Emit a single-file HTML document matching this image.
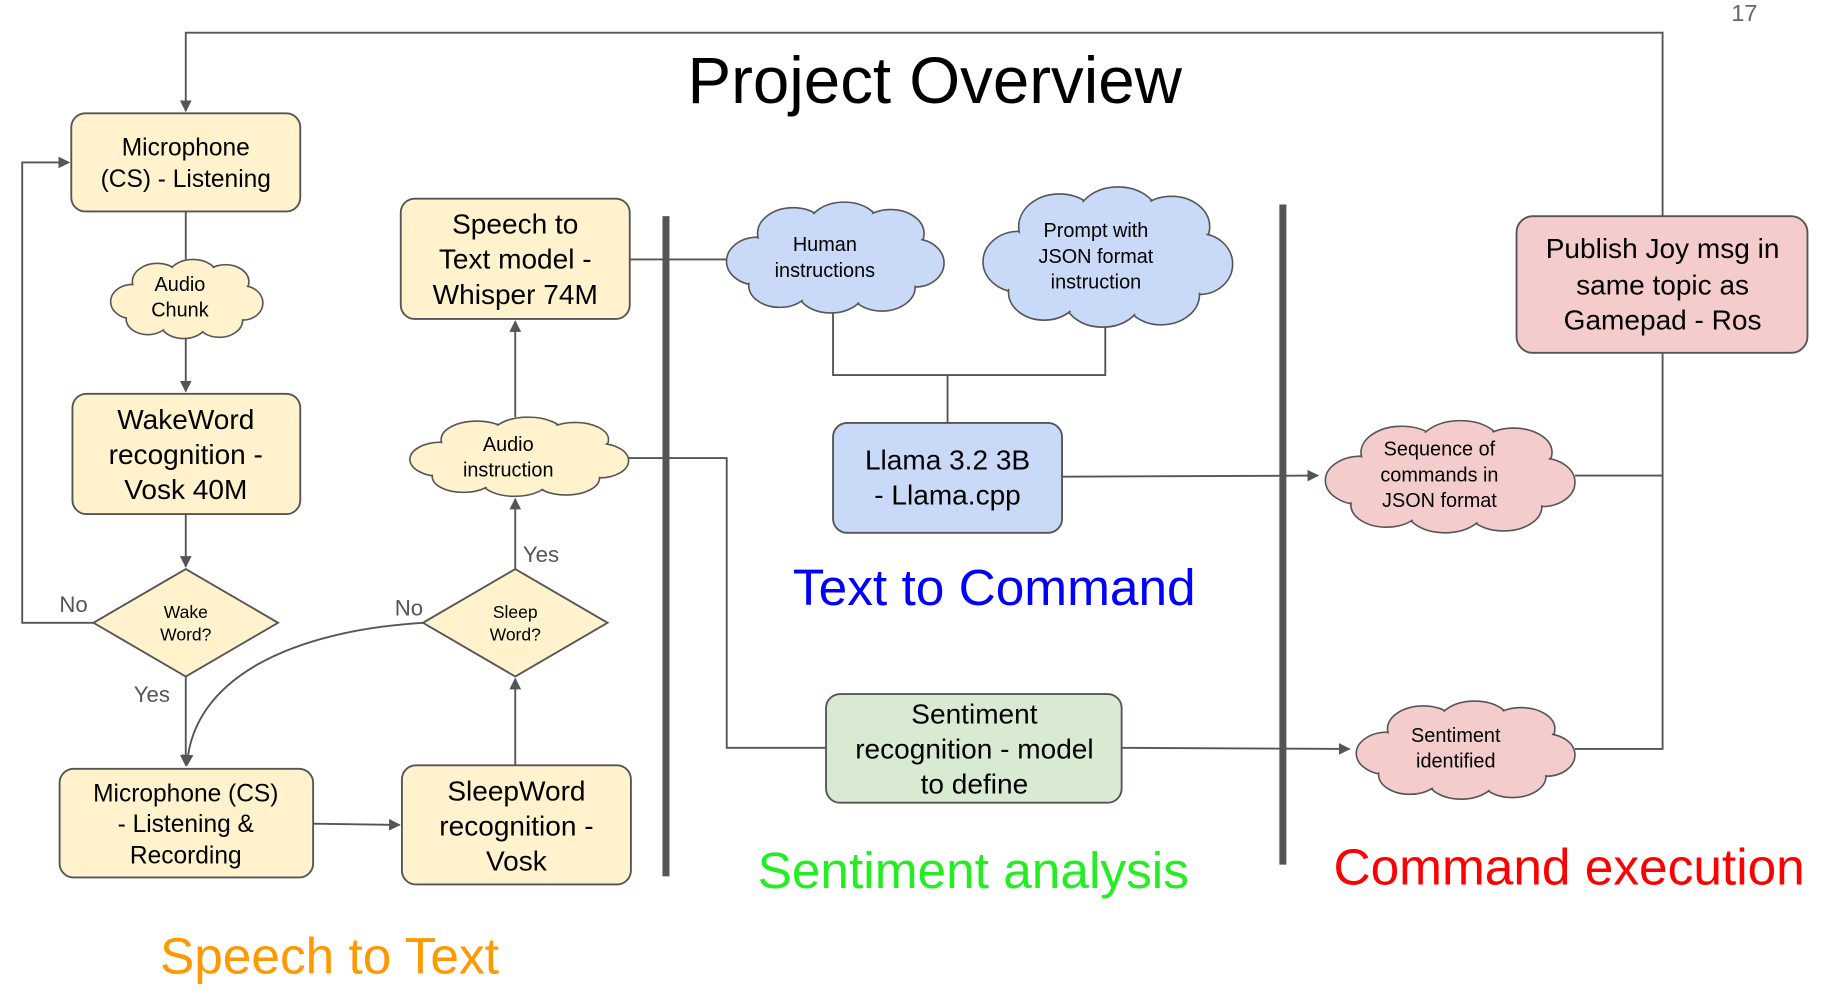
<!DOCTYPE html>
<html><head><meta charset="utf-8"><style>
html,body{margin:0;padding:0;background:#fff}
svg{display:block}
text{font-family:"Liberation Sans",Arial,sans-serif;text-anchor:middle;fill:#000}
</style></head><body>
<svg width="1832" height="999" viewBox="0 0 1568 855" preserveAspectRatio="none" xmlns="http://www.w3.org/2000/svg">
<defs>
<marker id="ar" markerWidth="10" markerHeight="10" refX="9" refY="5" orient="auto" markerUnits="userSpaceOnUse"><path d="M0,0 L10,5 L0,10 z" fill="#555"/></marker>
<g id="cs" stroke="#555" stroke-width="1.6">
<ellipse vector-effect="non-scaling-stroke" cx="16" cy="32" rx="14" ry="13"/>
<ellipse vector-effect="non-scaling-stroke" cx="32" cy="17" rx="16" ry="14"/>
<ellipse vector-effect="non-scaling-stroke" cx="55" cy="13" rx="16" ry="13"/>
<ellipse vector-effect="non-scaling-stroke" cx="76" cy="17" rx="15" ry="13"/>
<ellipse vector-effect="non-scaling-stroke" cx="87" cy="33" rx="13" ry="13"/>
<ellipse vector-effect="non-scaling-stroke" cx="72" cy="46" rx="15" ry="13"/>
<ellipse vector-effect="non-scaling-stroke" cx="49" cy="48" rx="15" ry="12"/>
<ellipse vector-effect="non-scaling-stroke" cx="26" cy="45" rx="14" ry="12"/>
</g>
<g id="cf">
<ellipse cx="16" cy="32" rx="13.2" ry="12.2"/>
<ellipse cx="32" cy="17" rx="15.2" ry="13.2"/>
<ellipse cx="55" cy="13" rx="15.2" ry="12.2"/>
<ellipse cx="76" cy="17" rx="14.2" ry="12.2"/>
<ellipse cx="87" cy="33" rx="12.2" ry="12.2"/>
<ellipse cx="72" cy="46" rx="14.2" ry="12.2"/>
<ellipse cx="49" cy="48" rx="14.2" ry="11.2"/>
<ellipse cx="26" cy="45" rx="13.2" ry="11.2"/>
<ellipse cx="50" cy="30" rx="30" ry="20"/>
</g>
</defs>

<text x="1493" y="18" font-size="20" style="fill:#666">17</text>
<text x="800" y="88" font-size="56">Project Overview</text>

<g fill="none" stroke="#555" stroke-width="1.6">
<path d="M1423,185 V28 H159 V95" marker-end="url(#ar)"/>
<path d="M159,181 V222"/>
<path d="M159,290 V335" marker-end="url(#ar)"/>
<path d="M159,440 V485" marker-end="url(#ar)"/>
<path d="M80,533 H19 V139 H59" marker-end="url(#ar)"/>
<path d="M159,579 V655" marker-end="url(#ar)"/>
<path d="M268,705 L342,706" marker-end="url(#ar)"/>
<path d="M441,655 V581" marker-end="url(#ar)"/>
<path d="M362,533 C250,540 165,580 160,655" marker-end="url(#ar)"/>
<path d="M441,487 V427" marker-end="url(#ar)"/>
<path d="M441,357 V275" marker-end="url(#ar)"/>
<path d="M539,222 H622"/>
<path d="M713,268 V321 H946 V280"/>
<path d="M811,321 V362"/>
<path d="M909,408 L1128,407" marker-end="url(#ar)"/>
<path d="M1348,407 H1423 M1423,302 V641 H1348"/>
<path d="M536,392 H622 V640 H707"/>
<path d="M960,640 L1155,641" marker-end="url(#ar)"/>
</g>
<rect x="567" y="185" width="6" height="565" fill="#555"/>
<rect x="1095" y="175" width="6" height="565" fill="#555"/>

<g stroke="#555" stroke-width="1.6">
<rect x="61" y="97" width="196" height="84" rx="12" fill="#fff2cc"/>
<rect x="62" y="337" width="195" height="103" rx="12" fill="#fff2cc"/>
<rect x="51" y="658" width="217" height="93" rx="12" fill="#fff2cc"/>
<rect x="344" y="655" width="196" height="102" rx="12" fill="#fff2cc"/>
<rect x="343" y="170" width="196" height="103" rx="12" fill="#fff2cc"/>
<rect x="713" y="362" width="196" height="94" rx="12" fill="#c9daf8"/>
<rect x="1298" y="185" width="249" height="117" rx="14" fill="#f4cccc"/>
<rect x="707" y="594" width="253" height="93" rx="12" fill="#d9ead3"/>
<path d="M159,487 L238,533 L159,579 L80,533 Z" fill="#fff2cc"/>
<path d="M441,487 L520,533 L441,579 L362,533 Z" fill="#fff2cc"/>
</g>

<use href="#cs" fill="#fff2cc" transform="translate(92,222) scale(1.33,1.13)"/>
<use href="#cf" fill="#fff2cc" transform="translate(92,222) scale(1.33,1.13)"/>
<use href="#cs" fill="#fff2cc" transform="translate(347,357) scale(1.91,1.13)"/>
<use href="#cf" fill="#fff2cc" transform="translate(347,357) scale(1.91,1.13)"/>
<use href="#cs" fill="#c9daf8" transform="translate(618,173) scale(1.9,1.58)"/>
<use href="#cf" fill="#c9daf8" transform="translate(618,173) scale(1.9,1.58)"/>
<use href="#cs" fill="#c9daf8" transform="translate(837,160) scale(2.18,2)"/>
<use href="#cf" fill="#c9daf8" transform="translate(837,160) scale(2.18,2)"/>
<use href="#cs" fill="#f4cccc" transform="translate(1130,360) scale(2.18,1.6)"/>
<use href="#cf" fill="#f4cccc" transform="translate(1130,360) scale(2.18,1.6)"/>
<use href="#cs" fill="#f4cccc" transform="translate(1157,600) scale(1.91,1.4)"/>
<use href="#cf" fill="#f4cccc" transform="translate(1157,600) scale(1.91,1.4)"/>

<g font-size="21">
<text x="159" y="133">Microphone</text><text x="159" y="160">(CS) - Listening</text>
<text x="159" y="686">Microphone (CS)</text><text x="159" y="712">- Listening &amp;</text><text x="159" y="739">Recording</text>
</g>
<g font-size="24">
<text x="159" y="367">WakeWord</text><text x="159" y="397">recognition -</text><text x="159" y="427">Vosk 40M</text>
<text x="442" y="685">SleepWord</text><text x="442" y="715">recognition -</text><text x="442" y="745">Vosk</text>
<text x="441" y="200">Speech to</text><text x="441" y="230">Text model -</text><text x="441" y="260">Whisper 74M</text>
<text x="811" y="402">Llama 3.2 3B</text><text x="811" y="432">- Llama.cpp</text>
<text x="1423" y="221">Publish Joy msg in</text><text x="1423" y="252">same topic as</text><text x="1423" y="282">Gamepad - Ros</text>
<text x="834" y="619">Sentiment</text><text x="834" y="649">recognition - model</text><text x="834" y="679">to define</text>
</g>
<g font-size="17">
<text x="154" y="249">Audio</text><text x="154" y="271">Chunk</text>
<text x="435" y="386">Audio</text><text x="435" y="408">instruction</text>
<text x="706" y="215">Human</text><text x="706" y="237">instructions</text>
<text x="938" y="203">Prompt with</text><text x="938" y="225">JSON format</text><text x="938" y="247">instruction</text>
<text x="1232" y="390">Sequence of</text><text x="1232" y="412">commands in</text><text x="1232" y="434">JSON format</text>
<text x="1246" y="635">Sentiment</text><text x="1246" y="657">identified</text>
</g>
<g font-size="15">
<text x="159" y="529">Wake</text><text x="159" y="548">Word?</text>
<text x="441" y="529">Sleep</text><text x="441" y="548">Word?</text>
</g>
<g font-size="19">
<text x="63" y="524" style="fill:#555">No</text>
<text x="130" y="601" style="fill:#555">Yes</text>
<text x="350" y="527" style="fill:#555">No</text>
<text x="463" y="481" style="fill:#555">Yes</text>
</g>
<g font-size="44">
<text x="851" y="518" style="fill:#0000ff">Text to Command</text>
<text x="833" y="760" style="fill:#22ee22">Sentiment analysis</text>
<text x="1343" y="757" style="fill:#ff0000">Command execution</text>
<text x="282" y="833" style="fill:#ff9900">Speech to Text</text>
</g>
</svg>
</body></html>
